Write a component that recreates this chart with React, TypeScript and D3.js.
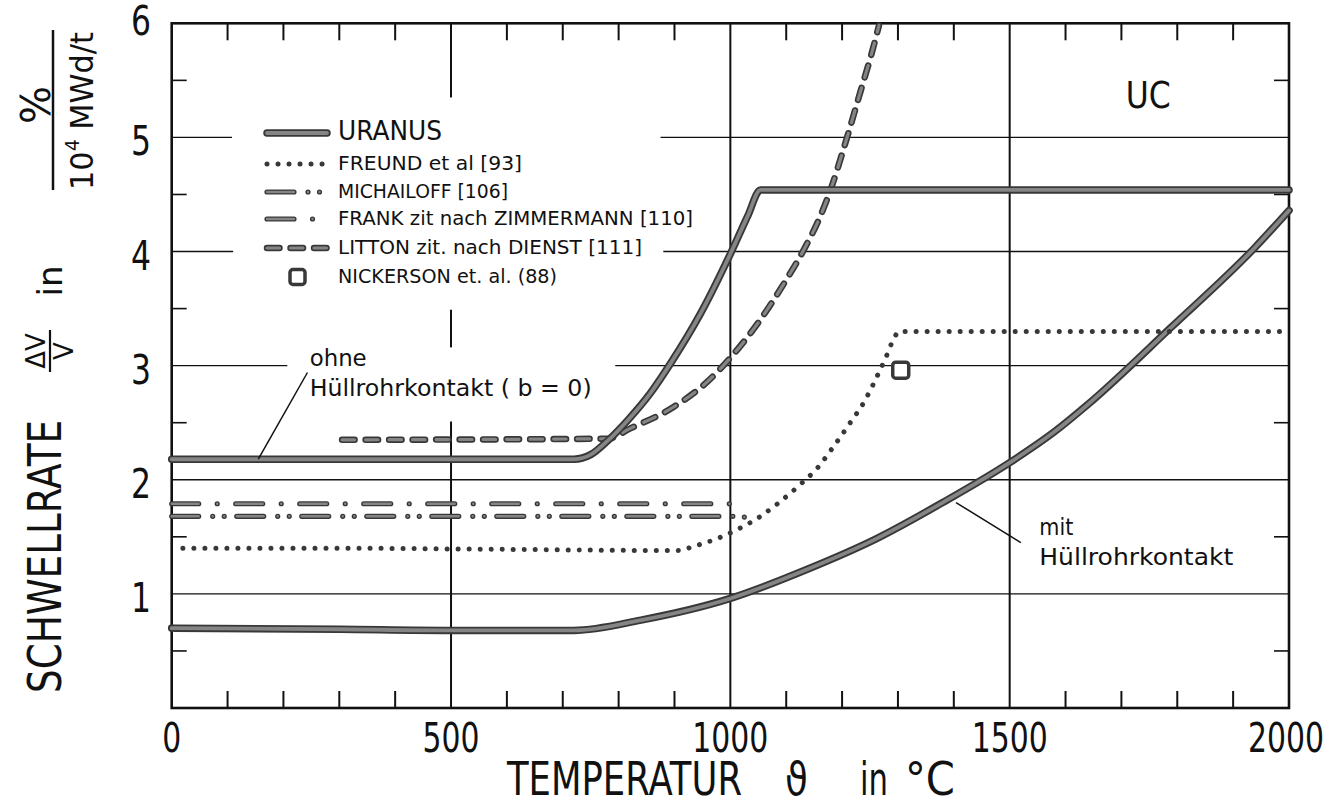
import React from "react";
import * as d3 from "d3";

type P = [number, number];

// ---------- data ----------
const xTickLabels = [0, 500, 1000, 1500, 2000];
const yTickLabels = [1, 2, 3, 4, 5, 6];
const xMinorTicks = [100, 200, 300, 400, 600, 700, 800, 900, 1100, 1200, 1300, 1400, 1600, 1700, 1800, 1900];
const yHalfTicks = [0.5, 1.5, 2.5, 3.5, 4.5, 5.5];

// URANUS ohne Hüllrohrkontakt (b = 0)
const uranusOhne: P[] = [
  [0, 2.18], [720, 2.18], [750, 2.22], [780, 2.34], [816, 2.52], [857, 2.76], [893, 3.02],
  [947, 3.46], [1002, 4.0], [1031, 4.31], [1054, 4.54], [2000, 4.54],
];
// URANUS mit Hüllrohrkontakt
const uranusMit: P[] = [
  [0, 0.7], [300, 0.69], [500, 0.68], [720, 0.68], [840, 0.77], [1000, 0.96], [1140, 1.22],
  [1260, 1.48], [1380, 1.8], [1500, 2.15], [1580, 2.42], [1640, 2.66], [1790, 3.34], [1940, 4.04], [2000, 4.36],
];
const freund: P[] = [
  [20, 1.4], [300, 1.4], [600, 1.39], [905, 1.38], [937, 1.42], [979, 1.49], [1015, 1.57], [1054, 1.68],
  [1087, 1.8], [1123, 1.95], [1157, 2.11], [1186, 2.3], [1216, 2.51], [1238, 2.67], [1261, 2.89],
  [1279, 3.08], [1293, 3.24], [1302, 3.3], [2000, 3.3],
];
const michailoff: P[] = [[0, 1.68], [1000, 1.68], [1045, 1.66]];
const frank: P[] = [[0, 1.79], [1000, 1.79]];
const litton: P[] = [
  [305, 2.35], [780, 2.36], [821, 2.45], [899, 2.64], [959, 2.86], [1002, 3.08], [1049, 3.37],
  [1096, 3.72], [1132, 4.02], [1162, 4.32], [1180, 4.55], [1204, 4.92], [1234, 5.42], [1252, 5.72], [1266, 5.98],
];
const nickerson: P[] = [[1305, 2.96]];

const legendLabels = [
  "URANUS",
  "FREUND et al  [93]",
  "MICHAILOFF  [106]",
  "FRANK  zit  nach  ZIMMERMANN  [110]",
  "LITTON  zit. nach  DIENST  [111]",
  "NICKERSON et. al. (88)",
];

// ---------- layout ----------
const W = 1341;
const H = 802;
const FONT = "'DejaVu Sans', 'Liberation Sans', sans-serif";

const x = d3.scaleLinear().domain([0, 2000]).range([171.7, 1289]);
const y = d3.scaleLinear().domain([0, 6]).range([708, 23.3]);

const smooth = d3.line<P>().x((d) => x(d[0])).y((d) => y(d[1])).curve(d3.curveMonotoneX);
const straight = d3.line<P>().x((d) => x(d[0])).y((d) => y(d[1]));

// gaps in grid lines (where labels sit)
const vGrid500: [number, number][] = [[6, 5.35], [3.49, 3.16], [2.51, 0]];
const hGridSegs: { v: number; segs: [number, number][] }[] = [
  { v: 1, segs: [[0, 2000]] },
  { v: 2, segs: [[0, 2000]] },
  { v: 3, segs: [[0, 207], [794, 2000]] },
  { v: 4, segs: [[0, 110], [880, 2000]] },
  { v: 5, segs: [[0, 108], [875, 2000]] },
];

const DARK = "#383838";
const GRAY = "#858585";

type StyleDef = { outer: number; inner: number; dash?: string };
const styles: Record<string, StyleDef> = {
  uranus: { outer: 7.5, inner: 3.8 },
  freund: { outer: 5, inner: 0, dash: "0.01 11" },
  michailoff: { outer: 5.2, inner: 2.4, dash: "27 14 0.01 11.5 0.01 12.5" },
  frank: { outer: 5.2, inner: 2.4, dash: "27 18.5 0.01 18.5" },
  litton: { outer: 6.5, inner: 3.2, dash: "12.5 11" },
};

function Stroke({ d, s }: { d: string; s: StyleDef }) {
  return (
    <g fill="none" strokeLinecap="round" strokeLinejoin="round">
      <path d={d} stroke={DARK} strokeWidth={s.outer} strokeDasharray={s.dash} />
      {s.inner > 0 && <path d={d} stroke={GRAY} strokeWidth={s.inner} strokeDasharray={s.dash} />}
    </g>
  );
}

export default function App() {
  const left = x(0);
  const right = x(2000);
  const top = y(6);
  const bottom = y(0);

  const legendRows = [133, 164, 192, 219, 248, 277];
  const legendKeys = ["uranus", "freund", "michailoff", "frank", "litton", "nickerson"];
  const legendWidths = [104, 184, 170, 355, 304, 219];

  return (
    <div style={{ position: "absolute", left: 0, top: 0 }}>
      <svg width={W} height={H} style={{ display: "block", background: "#fff" }} fontFamily={FONT}>
        {/* grid */}
        <g stroke="#111" fill="none">
          {hGridSegs.map((g) =>
            g.segs.map((s, i) => (
              <line key={`h${g.v}-${i}`} x1={x(s[0])} x2={x(s[1])} y1={y(g.v)} y2={y(g.v)} strokeWidth={1.4} />
            ))
          )}
          {vGrid500.map((s, i) => (
            <line key={`v5-${i}`} x1={x(500)} x2={x(500)} y1={y(s[0])} y2={y(s[1])} strokeWidth={2} />
          ))}
          {[1000, 1500].map((t) => (
            <line key={`v${t}`} x1={x(t)} x2={x(t)} y1={top} y2={bottom} strokeWidth={2} />
          ))}
          {xMinorTicks.map((t) => (
            <g key={`xt${t}`}>
              <line x1={x(t)} x2={x(t)} y1={bottom} y2={bottom - 17} strokeWidth={2} />
              <line x1={x(t)} x2={x(t)} y1={top} y2={top + 17} strokeWidth={2} />
            </g>
          ))}
          {yHalfTicks.map((v) => (
            <g key={`yt${v}`}>
              <line x1={left} x2={left + 15} y1={y(v)} y2={y(v)} strokeWidth={1.6} />
              <line x1={right} x2={right - 15} y1={y(v)} y2={y(v)} strokeWidth={1.6} />
            </g>
          ))}
          <rect x={left} y={top} width={right - left} height={bottom - top} strokeWidth={2.6} />
        </g>

        {/* curves */}
        <Stroke d={smooth(uranusMit) || ""} s={styles.uranus} />
        <Stroke d={straight(frank) || ""} s={styles.frank} />
        <Stroke d={smooth(michailoff) || ""} s={styles.michailoff} />
        <Stroke d={smooth(freund) || ""} s={styles.freund} />
        <Stroke d={smooth(litton) || ""} s={styles.litton} />
        <Stroke d={smooth(uranusOhne) || ""} s={styles.uranus} />
        {nickerson.map((p, i) => (
          <rect key={`n${i}`} x={x(p[0]) - 8} y={y(p[1]) - 8} width={16} height={16} rx={3}
            fill="#fff" stroke={DARK} strokeWidth={3.5} />
        ))}

        {/* annotations */}
        <g stroke="#111" strokeWidth={1.5}>
          <line x1={x(155)} y1={y(2.18)} x2={x(243)} y2={y(2.94)} />
          <line x1={x(1404)} y1={y(1.8)} x2={x(1520)} y2={y(1.45)} />
        </g>
        <g fill="#111" fontSize={23}>
          <text x={x(247)} y={y(3.0)} textLength={57} lengthAdjust="spacingAndGlyphs">ohne</text>
          <text x={x(247)} y={y(2.73)} textLength={282} lengthAdjust="spacingAndGlyphs">Hüllrohrkontakt ( b = 0)</text>
          <text x={x(1553)} y={y(1.52)} textLength={34} lengthAdjust="spacingAndGlyphs">mit</text>
          <text x={x(1553)} y={y(1.25)} textLength={194} lengthAdjust="spacingAndGlyphs">Hüllrohrkontakt</text>
        </g>
        <text x={x(1748)} y={y(5.26)} fontSize={38} textAnchor="middle" textLength={45} lengthAdjust="spacingAndGlyphs" fill="#111">UC</text>

        {/* legend */}
        {legendKeys.map((k, i) => {
          const yy = legendRows[i];
          const d = `M267,${yy}L327,${yy}`;
          return (
            <g key={k}>
              {k === "nickerson" ? (
                <rect x={290} y={yy - 7.5} width={15} height={15} rx={3} fill="#fff" stroke={DARK} strokeWidth={3.5} />
              ) : (
                <Stroke d={d} s={styles[k]} />
              )}
              <text x={338} y={yy + (i === 0 ? 7 : 6)} fontSize={i === 0 ? 26 : 19} fill="#111"
                textLength={legendWidths[i]} lengthAdjust="spacingAndGlyphs">{legendLabels[i]}</text>
            </g>
          );
        })}

        {/* x tick labels */}
        <g fontSize={40} fill="#111" textAnchor="middle">
          {xTickLabels.map((t) => {
            const s = String(t);
            return (
              <text key={`xl${t}`} x={x(t) - (t === 2000 ? 3 : 0)} y={752} textLength={s.length * 19}
                lengthAdjust="spacingAndGlyphs">{s}</text>
            );
          })}
        </g>
        {/* y tick labels */}
        <g fontSize={40} fill="#111" textAnchor="middle">
          {yTickLabels.map((v) => (
            <text key={`yl${v}`} x={141} y={v === 6 ? 35 : y(v) + 18} textLength={20}
              lengthAdjust="spacingAndGlyphs">{v}</text>
          ))}
        </g>

        {/* x axis title */}
        <g fontSize={46} fill="#111">
          <text x={507} y={795} textLength={235} lengthAdjust="spacingAndGlyphs">TEMPERATUR</text>
          <text x={785} y={795} textLength={23} lengthAdjust="spacingAndGlyphs">ϑ</text>
          <text x={860} y={795} textLength={28} lengthAdjust="spacingAndGlyphs">in</text>
          <text x={905} y={795} textLength={50} lengthAdjust="spacingAndGlyphs">°C</text>
        </g>

        {/* y axis title (rotated) */}
        <g fill="#111">
          <text transform="translate(61,693) rotate(-90)" fontSize={46} textLength={273}
            lengthAdjust="spacingAndGlyphs">SCHWELLRATE</text>
          <text transform="translate(45,351) rotate(-90)" fontSize={26} textAnchor="middle">ΔV</text>
          <line x1={50} x2={50} y1={372} y2={330} stroke="#111" strokeWidth={2.2} />
          <text transform="translate(73,351) rotate(-90)" fontSize={26} textAnchor="middle">V</text>
          <text transform="translate(62,281) rotate(-90)" fontSize={34} textAnchor="middle">in</text>
          <text transform="translate(50,105) rotate(-90)" fontSize={40} textAnchor="middle">%</text>
          <line x1={53} x2={53} y1={190} y2={30} stroke="#111" strokeWidth={2.5} />
          <text transform="translate(93,190) rotate(-90)" fontSize={32} textLength={158} lengthAdjust="spacingAndGlyphs">
            10<tspan fontSize={20} dy={-14}>4</tspan><tspan dy={14}> MWd/t</tspan>
          </text>
        </g>
      </svg>
    </div>
  );
}
